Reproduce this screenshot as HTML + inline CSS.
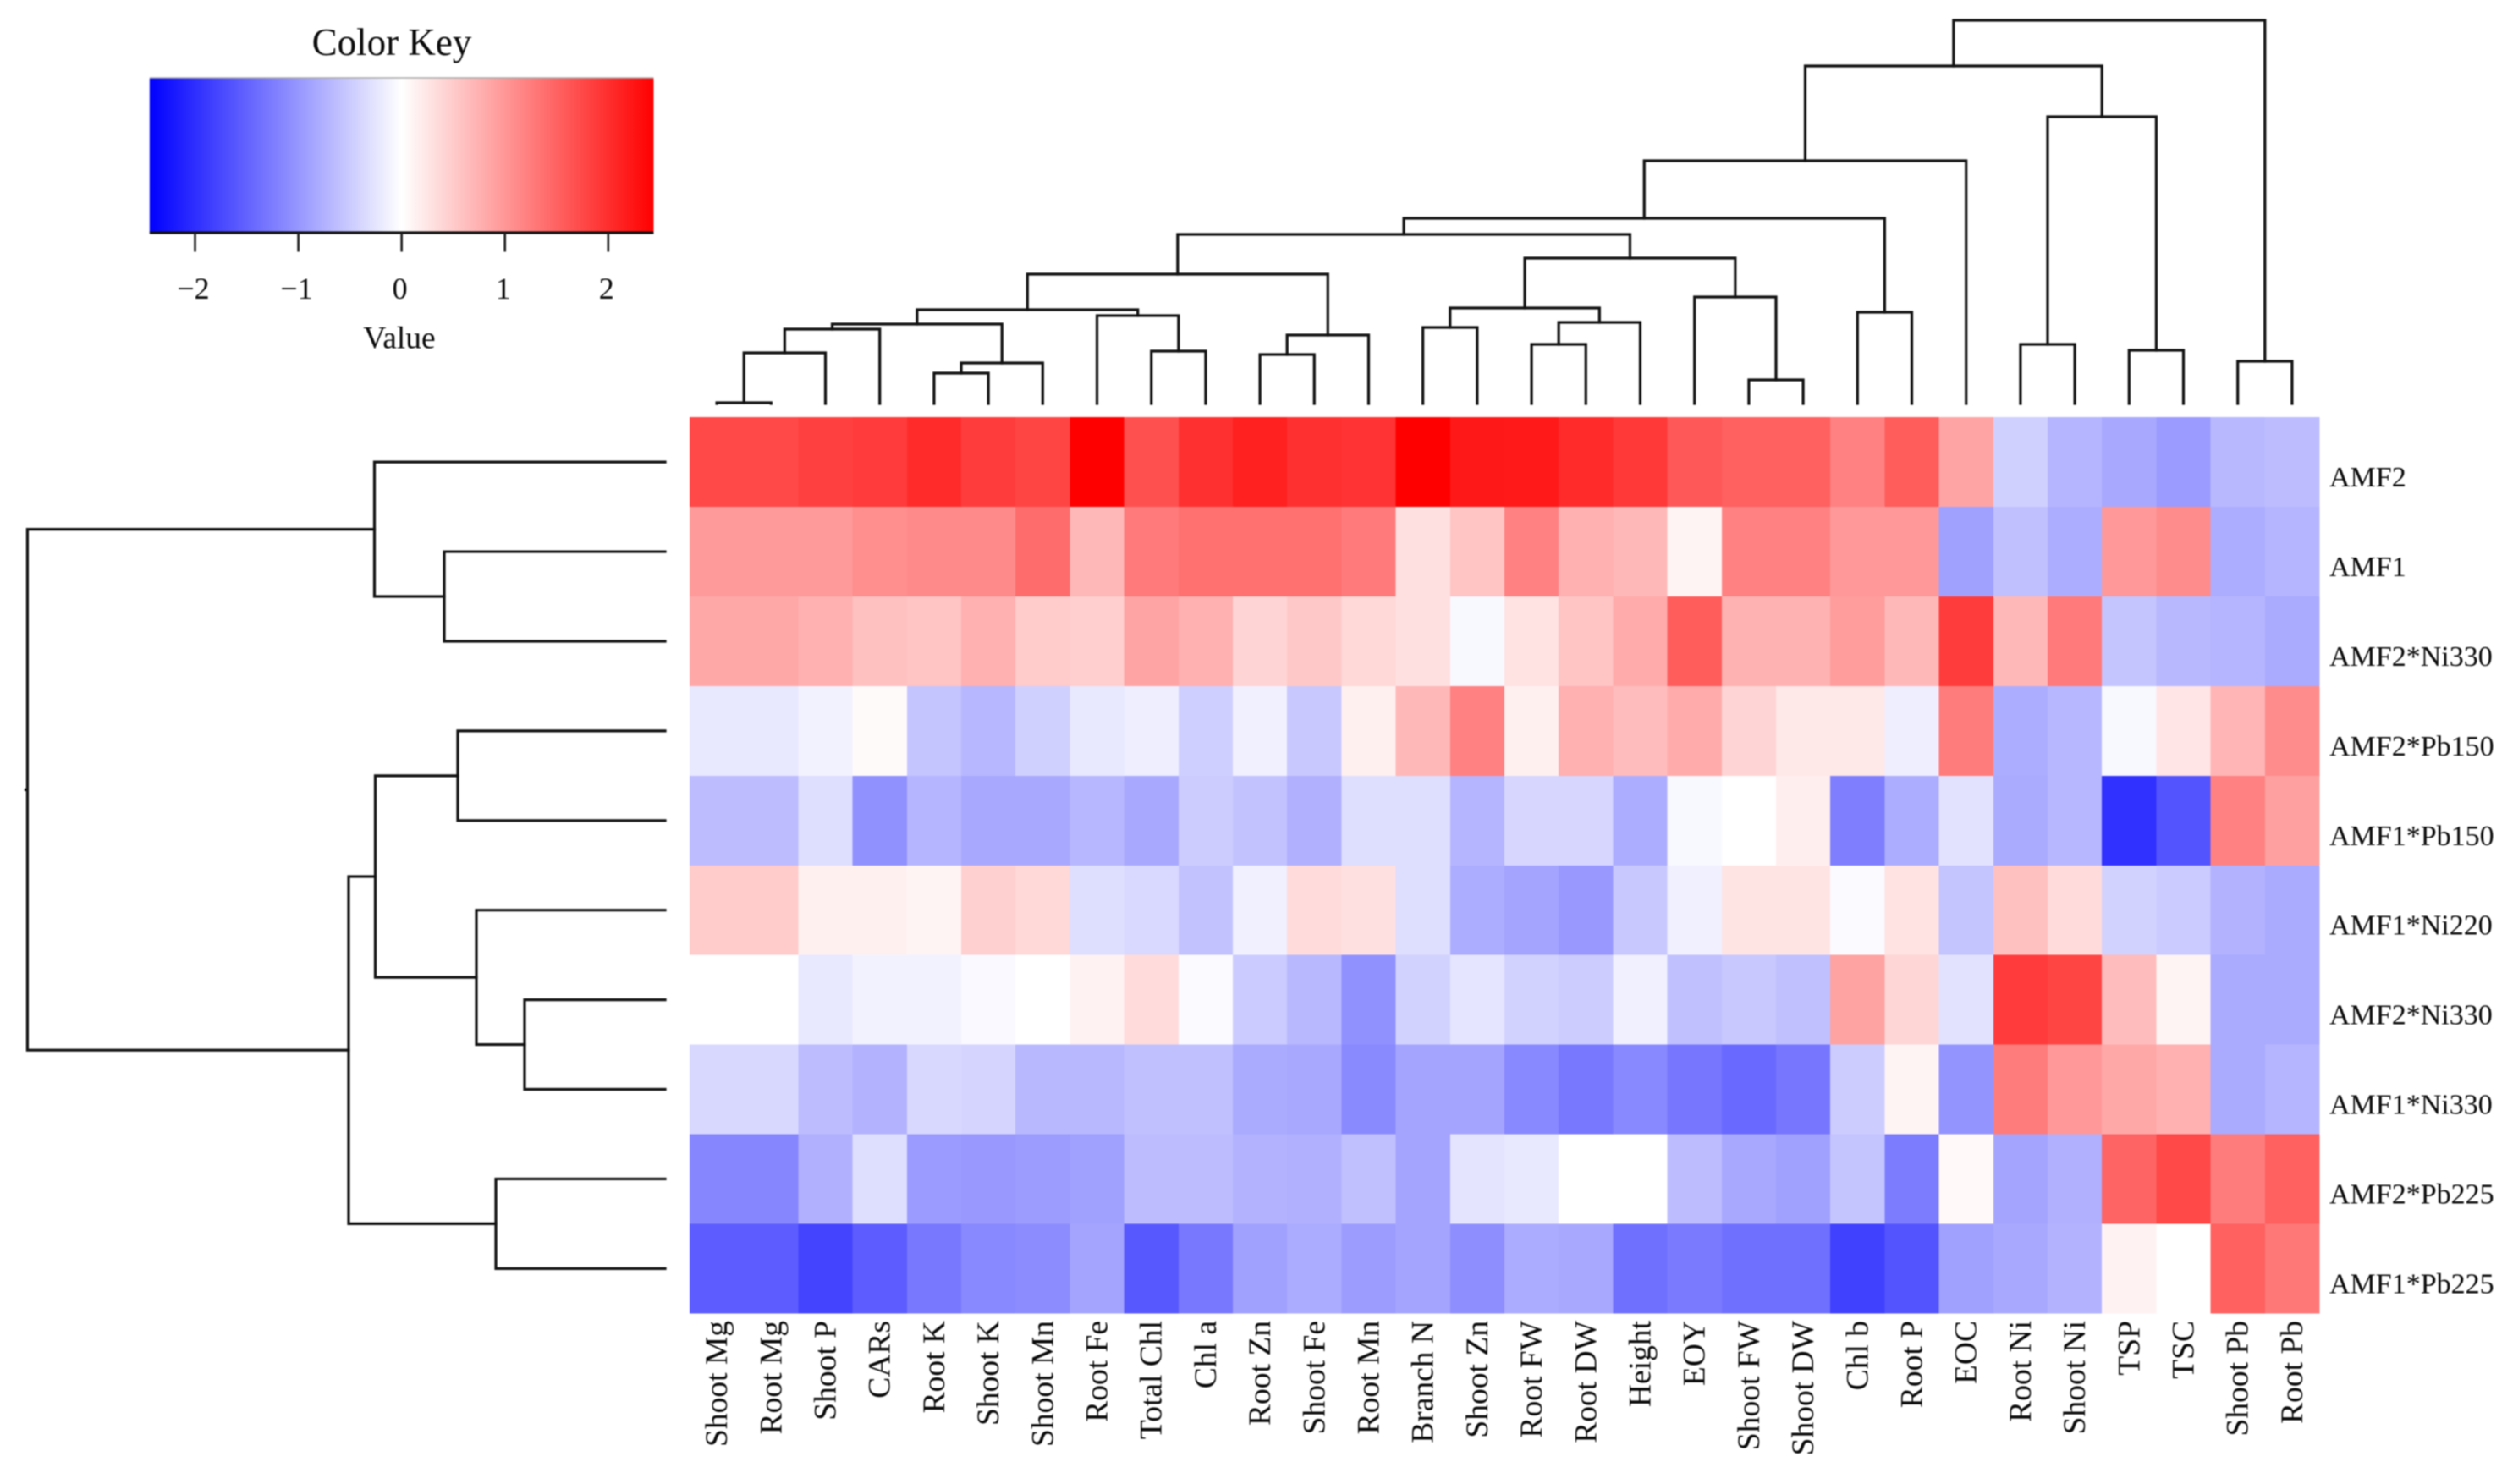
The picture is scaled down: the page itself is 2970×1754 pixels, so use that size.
<!DOCTYPE html>
<html lang="en">
<head>
<meta charset="utf-8">
<title>Heatmap with dendrograms</title>
<style>
html,body{margin:0;padding:0;background:#fff;width:2970px;height:1754px;overflow:hidden}
svg{display:block;filter:blur(0.7px)}
text{font-family:"Liberation Serif",serif;fill:#0a0a0a}
</style>
</head>
<body>
<svg id="chart" xmlns="http://www.w3.org/2000/svg" width="2970" height="1754" viewBox="0 0 2970 1754">
  <defs>
    <linearGradient id="key-gradient" x1="0" x2="1" y1="0" y2="0">
      <stop offset="0" stop-color="#0000ff"/>
      <stop offset="0.5" stop-color="#ffffff"/>
      <stop offset="1" stop-color="#ff0000"/>
    </linearGradient>
  </defs>
  <g id="key"></g>
  <g id="col-dendro"></g>
  <g id="row-dendro"></g>
  <g id="cells"></g>
  <g id="row-labels"></g>
  <g id="col-labels"></g>
</svg>
<script>
const colLabels = ["Shoot Mg","Root Mg","Shoot P","CARs","Root K","Shoot K","Shoot Mn","Root Fe","Total Chl","Chl a","Root Zn","Shoot Fe","Root Mn","Branch N","Shoot Zn","Root FW","Root DW","Height","EOY","Shoot FW","Shoot DW","Chl b","Root P","EOC","Root Ni","Shoot Ni","TSP","TSC","Shoot Pb","Root Pb"];
const rowLabels = ["AMF2","AMF1","AMF2*Ni330","AMF2*Pb150","AMF1*Pb150","AMF1*Ni220","AMF2*Ni330","AMF1*Ni330","AMF2*Pb225","AMF1*Pb225"];

const rowAMF2 = [1.75,1.75,1.83,1.88,2.03,1.87,1.79,2.44,1.67,1.98,2.13,1.98,1.95,2.44,2.21,2.2,2.03,1.9,1.6,1.52,1.52,1.21,1.56,0.87,-0.45,-0.71,-0.83,-0.96,-0.68,-0.64];
const rowAMF1 = [0.97,0.97,0.97,1.08,1.12,1.12,1.41,0.68,1.27,1.37,1.37,1.37,1.27,0.3,0.56,1.21,0.76,0.68,0.11,1.21,1.21,0.99,0.99,-0.91,-0.6,-0.78,0.99,1.1,-0.78,-0.71];
const rowAMF2Ni330a = [0.83,0.83,0.76,0.6,0.56,0.76,0.5,0.47,0.87,0.76,0.41,0.53,0.37,0.3,-0.07,0.28,0.56,0.8,1.56,0.74,0.74,0.95,0.68,1.87,0.68,1.27,-0.56,-0.68,-0.71,-0.81];
const rowAMF2Pb150 = [-0.22,-0.22,-0.12,0.05,-0.56,-0.69,-0.45,-0.22,-0.16,-0.46,-0.14,-0.53,0.14,0.68,1.21,0.14,0.76,0.64,0.8,0.41,0.22,0.22,-0.16,1.25,-0.78,-0.69,-0.07,0.25,0.71,1.1];
const rowAMF1Pb150 = [-0.64,-0.64,-0.32,-1.06,-0.71,-0.83,-0.83,-0.69,-0.83,-0.49,-0.58,-0.76,-0.32,-0.32,-0.71,-0.39,-0.39,-0.78,-0.07,0,0.16,-1.23,-0.78,-0.28,-0.81,-0.69,-1.98,-1.64,1.21,0.91];
const rowAMF1Ni220 = [0.5,0.5,0.14,0.14,0.11,0.45,0.37,-0.32,-0.36,-0.58,-0.14,0.34,0.3,-0.32,-0.78,-0.87,-0.99,-0.53,-0.14,0.26,0.26,-0.05,0.28,-0.56,0.6,0.34,-0.43,-0.5,-0.74,-0.81];
const rowAMF2Ni330b = [0,0,-0.22,-0.12,-0.12,-0.06,0,0.12,0.34,-0.04,-0.5,-0.68,-1.06,-0.43,-0.25,-0.43,-0.49,-0.14,-0.6,-0.53,-0.6,0.89,0.39,-0.28,1.88,1.79,0.64,0.11,-0.81,-0.81];
const rowAMF1Ni330 = [-0.37,-0.37,-0.64,-0.74,-0.37,-0.41,-0.68,-0.68,-0.6,-0.6,-0.81,-0.83,-1.12,-0.87,-0.87,-1.14,-1.29,-1.14,-1.31,-1.44,-1.31,-0.49,0.11,-1.02,1.25,0.99,0.83,0.76,-0.81,-0.71];
const rowAMF2Pb225 = [-1.16,-1.16,-0.76,-0.32,-0.96,-0.99,-0.95,-0.91,-0.64,-0.64,-0.74,-0.76,-0.6,-0.87,-0.26,-0.22,0,0,-0.64,-0.83,-0.91,-0.56,-1.25,0.06,-0.87,-0.76,1.48,1.75,1.25,1.52];
const rowAMF1Pb225 = [-1.56,-1.56,-1.79,-1.56,-1.29,-1.14,-1.1,-0.87,-1.6,-1.29,-0.91,-0.8,-0.95,-0.87,-1.08,-0.8,-0.83,-1.37,-1.27,-1.37,-1.37,-1.83,-1.64,-0.91,-0.83,-0.74,0.12,0,1.52,1.29];
const matrixRows = [rowAMF2,rowAMF1,rowAMF2Ni330a,rowAMF2Pb150,rowAMF1Pb150,rowAMF1Ni220,rowAMF2Ni330b,rowAMF1Ni330,rowAMF2Pb225,rowAMF1Pb225];

// Dendrograms in hclust style: negative = leaf (1-based display order), positive = earlier merge.
const colMergeA = [-1,1,2,-5,4,3,-9,-8,6,-11,10,9,-14,-16,14,13,-20,-19,16,12,-22,20,22,-25,-27,24,23,-29,27];
const colMergeB = [-2,-3,-4,-6,-7,5,-10,7,8,-12,-13,11,-15,-17,-18,15,-21,17,18,19,-23,21,-24,-26,-28,25,26,-30,28];
const colMergeHeight = [0.05,3,4.4,1.8,2.4,4.7,3.1,5.2,5.55,2.9,4.05,7.65,4.5,3.5,4.8,5.65,1.4,6.3,8.6,10,5.4,10.95,14.35,3.5,3.15,16.95,19.95,2.5,22.65];
const rowMergeA = [-2,-1,-4,-7,-6,3,-9,6,2];
const rowMergeB = [-3,1,-5,-8,4,5,-10,7,8];
const rowMergeHeight = [13.05,17.175,12.25,8.3,11.15,17.125,10,18.7,37.68];

const keyTicks = [-2,-1,0,1,2];
const keyLimit = 2.44;

const NS = 'http://www.w3.org/2000/svg';
const heatLeft = 815, heatRight = 2741, heatTop = 493.2, heatBottom = 1552.3;
const colW = (heatRight - heatLeft) / colLabels.length;
const rowH = (heatBottom - heatTop) / rowLabels.length;
const colX = i => heatLeft + i * colW;
const rowY = r => heatTop + r * rowH;
const colCenter = p => colX(p + 0.5);
const rowCenter = p => rowY(p + 0.5);
const colHeightY = h => 477 - h * 20;
const rowHeightX = h => 786 - h * 20;
const keyLeft = 176.8, keyRight = 772.5, keyTop = 92.5, keyBottom = 275;
const keyX = v => keyLeft + (v + keyLimit) / (2 * keyLimit) * (keyRight - keyLeft);

function colour(v) {
  const t = Math.min(1, Math.abs(v) / keyLimit);
  const c = Math.round(255 * (1 - t));
  return v >= 0 ? `rgb(255,${c},${c})` : `rgb(${c},${c},255)`;
}
function make(tag, parent, attrs) {
  const el = document.createElementNS(NS, tag);
  for (const k in attrs) el.setAttribute(k, attrs[k]);
  parent.appendChild(el);
  return el;
}
const lineStyle = {stroke:'#111','stroke-width':3.2,fill:'none','stroke-linejoin':'miter','stroke-linecap':'square'};

// heatmap cells
const cellsG = document.getElementById('cells');
matrixRows.forEach((vals, r) => {
  vals.forEach((v, c) => {
    const cell = make('rect', cellsG, {x:colX(c), y:rowY(r), width:colW + 0.4, height:rowH + 0.4, fill:colour(v), 'shape-rendering':'crispEdges'});
    
    
  });
});

// row labels
const rowG = document.getElementById('row-labels');
rowLabels.forEach((t, r) => {
  const el = make('text', rowG, {x:2753, y:rowCenter(r) + 29, 'font-size':34});
  el.textContent = t;
  
  
});

// column labels
const colG = document.getElementById('col-labels');
colLabels.forEach((t, c) => {
  const x = colCenter(c) + 12, y = 1561;
  const el = make('text', colG, {x:x, y:y, 'font-size':37.5, 'text-anchor':'end', transform:`rotate(-90 ${x} ${y})`});
  el.textContent = t;
  
  
});

// dendrograms
function drawDendro(group, mergeA, mergeB, heights, leafPos, heightPos, vertical) {
  const pos = [], lvl = [];
  const childPos = id => id < 0 ? leafPos(-id - 1) : pos[id - 1];
  const childLvl = id => id < 0 ? heightPos(0) : lvl[id - 1];
  heights.forEach((h, i) => {
    const a = mergeA[i], b = mergeB[i];
    const pa = childPos(a), pb = childPos(b);
    const la = childLvl(a), lb = childLvl(b);
    const l = heightPos(h);
    pos[i] = (pa + pb) / 2;
    lvl[i] = l;
    const d = vertical
      ? `M${pa} ${la}V${l}H${pb}V${lb}`
      : `M${la} ${pa}H${l}V${pb}H${lb}`;
    const link = make('path', group, Object.assign({d:d}, lineStyle));
    
    
  });
  return {p:pos[pos.length - 1], l:lvl[lvl.length - 1]};
}
drawDendro(document.getElementById('col-dendro'), colMergeA, colMergeB, colMergeHeight, colCenter, colHeightY, true);
const rootRow = drawDendro(document.getElementById('row-dendro'), rowMergeA, rowMergeB, rowMergeHeight, rowCenter, rowHeightX, false);
const rootStub = make('path', document.getElementById('row-dendro'), Object.assign({d:`M${rootRow.l} ${rootRow.p}h-2`}, lineStyle));



// colour key
const keyG = document.getElementById('key');
const keyTitle = make('text', keyG, {x:463, y:65, 'font-size':45, 'text-anchor':'middle'});
keyTitle.textContent = 'Color Key';


const keyBar = make('rect', keyG, {x:keyLeft, y:keyTop, width:keyRight - keyLeft, height:keyBottom - keyTop, fill:'url(#key-gradient)'});


const keyTopLine = make('line', keyG, {x1:keyLeft, x2:keyRight, y1:keyTop - 0.5, y2:keyTop - 0.5, stroke:'#aaa', 'stroke-width':1.5});


const keyAxis = make('line', keyG, {x1:keyLeft, x2:keyRight, y1:keyBottom, y2:keyBottom, stroke:'#111', 'stroke-width':3.2});


keyTicks.forEach(v => {
  const x = keyX(v);
  const tick = make('line', keyG, {x1:x, x2:x, y1:keyBottom, y2:297.5, stroke:'#1c1c1c', 'stroke-width':2.6});
  
  
  const lab = make('text', keyG, {x:x - 2, y:353, 'font-size':36, 'text-anchor':'middle'});
  lab.textContent = v < 0 ? '\u2212' + Math.abs(v) : String(v);
  
  
});
const keyAxisTitle = make('text', keyG, {x:472, y:411.5, 'font-size':37.5, 'text-anchor':'middle'});
keyAxisTitle.textContent = 'Value';


</script>
</body>
</html>
